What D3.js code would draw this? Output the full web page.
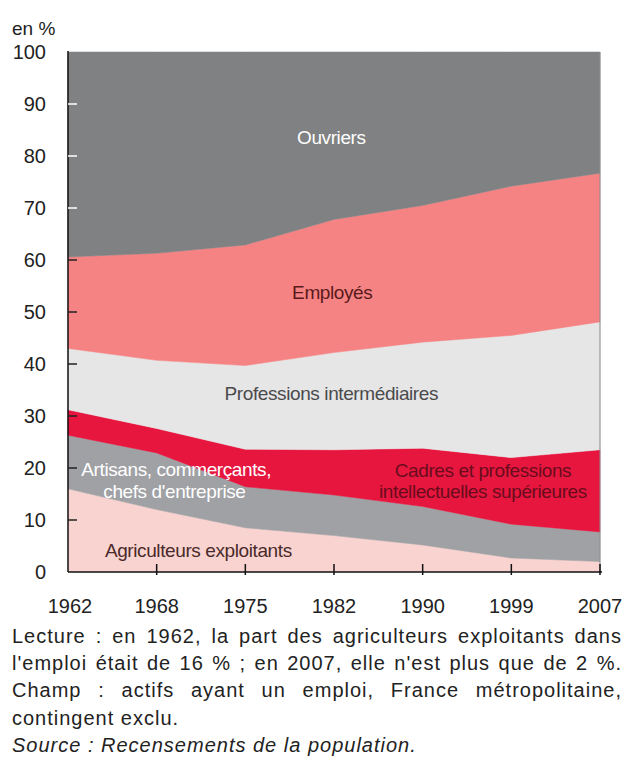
<!DOCTYPE html>
<html>
<head>
<meta charset="utf-8">
<script src="https://cdn.jsdelivr.net/npm/d3@7"></script>
<style>
  body { margin: 0; background: #fff; }
  svg { display: block; font-family: "Liberation Sans", Arial, sans-serif; }
</style>
</head>
<body>
<svg id="chart" width="625" height="772"></svg>
<script>
var years = ["1962", "1968", "1975", "1982", "1990", "1999", "2007"];

// parts de l'emploi (en %), du bas vers le haut
var agriculteurs = [16, 12, 8.5, 7, 5.2, 2.7, 2];
var artisans = [10.3, 10.9, 7.9, 7.8, 7.4, 6.5, 5.7];
var cadres = [4.9, 4.7, 7.2, 8.7, 11.2, 12.8, 15.8];
var intermediaires = [11.8, 13.1, 16.1, 18.7, 20.4, 23.5, 24.6];
var employes = [17.6, 20.6, 23.2, 25.6, 26.3, 28.7, 28.6];
var ouvriers = [39.4, 38.7, 37.1, 32.2, 29.5, 25.8, 23.3];

var yTicks = [0, 10, 20, 30, 40, 50, 60, 70, 80, 90, 100];

var footnote = [
  "Lecture : en 1962, la part des agriculteurs exploitants dans",
  "l'emploi était de 16 % ; en 2007, elle n'est plus que de 2 %.",
  "Champ : actifs ayant un emploi, France métropolitaine,",
  "contingent exclu.",
  "Source : Recensements de la population."
];

var series = [
  {key: "agri", values: agriculteurs, color: "#f9d3cf"},
  {key: "art", values: artisans, color: "#9fa1a5"},
  {key: "cad", values: cadres, color: "#e6163f"},
  {key: "pi", values: intermediaires, color: "#e6e6e7"},
  {key: "emp", values: employes, color: "#f58383"},
  {key: "ouv", values: ouvriers, color: "#808183"}
];

var svg = d3.select("#chart"),
    plotL = 68, plotR = 600, plotT = 52, plotB = 572;

var x = d3.scalePoint().domain(years).range([plotL, plotR]),
    xi = d3.scaleLinear().domain([0, years.length - 1]).range([plotL, plotR]),
    y = d3.scaleLinear().domain([0, 100]).range([plotB, plotT]);

var table = years.map(function(yr, i) {
  var row = {year: yr};
  series.forEach(function(s) { row[s.key] = s.values[i]; });
  return row;
});

var stack = d3.stack().keys(series.map(function(s) { return s.key; }));
var layers = stack(table);

var area = d3.area()
    .x(function(d) { return x(d.data.year); })
    .y0(function(d) { return y(d[0]); })
    .y1(function(d) { return y(d[1]); });

var g = svg.append("g");

g.selectAll(".layer")
  .data(layers)
  .enter().append("path")
    .attr("class", "layer")
    .attr("d", area)
    .attr("fill", function(d, i) { return series[i].color; })
    .attr("stroke", function(d, i) { return series[i].color; })
    .attr("stroke-width", 0.5);

// right edge
g.append("line")
  .attr("x1", plotR).attr("x2", plotR)
  .attr("y1", y(100)).attr("y2", y(0))
  .attr("stroke", "#8c8c8c").attr("stroke-width", 1);

// labels inside the areas (index position, value)
var labels = [
  {t: "Ouvriers", i: 2.97, v: 83.5, c: "#ffffff"},
  {t: "Employés", i: 2.98, v: 53.7, c: "#5a1a1c"},
  {t: "Professions intermédiaires", i: 2.97, v: 34.4, c: "#4a4a4c"},
  {t: "Artisans, commerçants,", i: 1.22, v: 19.8, c: "#ffffff"},
  {t: "chefs d'entreprise", i: 1.2, v: 15.5, c: "#ffffff"},
  {t: "Cadres et professions", i: 4.68, v: 19.6, c: "#6a0c1c"},
  {t: "intellectuelles supérieures", i: 4.68, v: 15.6, c: "#6a0c1c"},
  {t: "Agriculteurs exploitants", i: 1.47, v: 4.2, c: "#4a2a2a"}
];

g.selectAll(".lbl")
  .data(labels)
  .enter().append("text")
    .attr("class", "lbl")
    .attr("x", function(d) { return xi(d.i); })
    .attr("y", function(d) { return y(d.v); })
    .attr("dy", "0.35em")
    .attr("text-anchor", "middle")
    .attr("fill", function(d) { return d.c; })
    .style("font-size", "19px")
    .style("letter-spacing", "-0.4px")
    .text(function(d) { return d.t; });

// y axis
var yAxis = svg.append("g");
yAxis.append("line")
  .attr("x1", plotL).attr("x2", plotL)
  .attr("y1", y(100) - 1).attr("y2", y(0))
  .attr("stroke", "#111").attr("stroke-width", 1.5);

var firstEmpTop = d3.sum(series.slice(0, 5), function(s) { return s.values[0]; });

var yt = yAxis.selectAll(".ytick")
  .data(yTicks)
  .enter().append("g")
    .attr("class", "ytick")
    .attr("transform", function(d) { return "translate(0," + y(d) + ")"; });

yt.filter(function(d) { return d > 0 && d < 100; })
  .append("line")
    .attr("x1", plotL).attr("x2", plotL + 9)
    .attr("stroke", function(d) { return d > firstEmpTop ? "#ffffff" : "#222"; })
    .attr("stroke-width", 1.5);

yt.append("text")
  .attr("x", 46)
  .attr("dy", "0.35em")
  .attr("text-anchor", "end")
  .attr("fill", "#222")
  .style("font-size", "20px")
  .text(function(d) { return d; });

svg.append("text")
  .attr("x", 12).attr("y", 28)
  .attr("dy", "0.35em")
  .attr("fill", "#222")
  .style("font-size", "19px")
  .text("en %");

// x axis
var xAxis = svg.append("g");
xAxis.append("line")
  .attr("x1", plotL).attr("x2", plotR + 2)
  .attr("y1", plotB).attr("y2", plotB)
  .attr("stroke", "#111").attr("stroke-width", 1.5);

xAxis.selectAll(".xtick")
  .data(years.slice(1))
  .enter().append("line")
    .attr("x1", function(d) { return x(d); })
    .attr("x2", function(d) { return x(d); })
    .attr("y1", plotB + 3).attr("y2", plotB - 8)
    .attr("stroke", "#111").attr("stroke-width", 1.5);

xAxis.selectAll(".xlbl")
  .data(years)
  .enter().append("text")
    .attr("x", function(d, i) { return i === 0 ? x(d) + 2 : x(d); })
    .attr("y", 606)
    .attr("dy", "0.35em")
    .attr("text-anchor", "middle")
    .attr("fill", "#222")
    .style("font-size", "20px")
    .text(function(d) { return d; });

// footnote, first three lines justified
var fn = svg.append("g");
var lineW = 610;
footnote.forEach(function(t, i) {
  var txt = fn.append("text")
    .attr("x", 12)
    .attr("y", 636 + i * 27.2)
    .attr("dy", "0.35em")
    .attr("fill", "#222")
    .style("font-size", "20px")
    .style("letter-spacing", "1px")
    .text(t);
  if (i === 4) txt.style("font-style", "italic");
  if (i < 3) {
    var len = txt.node().getComputedTextLength();
    var spaces = t.split(" ").length - 1;
    txt.style("word-spacing", ((lineW - len) / spaces) + "px");
  }
});
</script>
</body>
</html>
